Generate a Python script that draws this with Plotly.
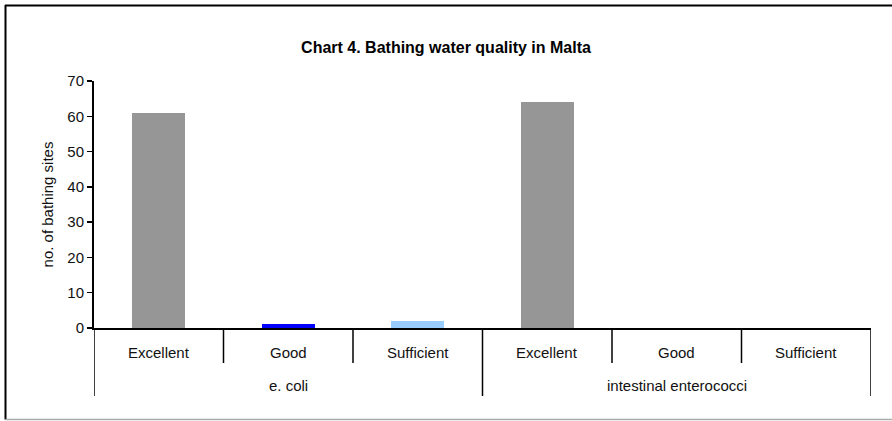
import plotly.graph_objects as go

# ---- data ----
groups = ["e. coli", "intestinal enterococci"]
classes = ["Excellent", "Good", "Sufficient"]
ecoli_values = [61, 1, 2]
enterococci_values = [64, 0, 0]
class_colors = ["#969696", "#0000FF", "#99CCFF"]
y_ticks = [0, 10, 20, 30, 40, 50, 60, 70]

title_text = "Chart 4. Bathing water quality in Malta"
y_title = "no. of bathing sites"

# ---- build ----
series = [ecoli_values, enterococci_values]
xs, ys, cols, labels = [], [], [], []
for gi, vals in enumerate(series):
    for ci, v in enumerate(vals):
        xs.append(gi * len(classes) + ci)
        ys.append(v)
        cols.append(class_colors[ci])
        labels.append(classes[ci])

W, H = 892, 421
ML, MR, MT, MB = 94, 21, 81, 93
PW, PH = W - ML - MR, H - MT - MB

def xp(px):
    return (px - ML) / PW

def yp(py):
    return (H - MB - py) / PH

FONT = "Liberation Sans, Arial, sans-serif"
FS = 15

fig = go.Figure()
fig.add_trace(go.Bar(x=xs, y=ys, marker=dict(color=cols, line=dict(width=0)),
                     width=0.41, showlegend=False, hoverinfo="skip"))

shapes = []
annotations = []
n = len(xs)
# category dividers
for k in range(n + 1):
    xb = k - 0.5
    is_group = (k % len(classes) == 0)
    shapes.append(dict(type="line", xref="x", yref="paper",
                       x0=xb, x1=xb, y0=0, y1=yp(H - MB + (68 if is_group else 35)),
                       line=dict(color="black", width=1.5)))
# inner labels
for x, lab in zip(xs, labels):
    annotations.append(dict(x=x, y=yp(352), xref="x", yref="paper", text=lab, showarrow=False,
                            yanchor="middle", xanchor="center",
                            font=dict(family=FONT, size=FS, color="#111111")))
# group labels
for gi, g in enumerate(groups):
    annotations.append(dict(x=gi * len(classes) + (len(classes) - 1) / 2, y=yp(385),
                            xref="x", yref="paper",
                            text=g, showarrow=False, yanchor="middle",
                            xanchor="center", font=dict(family=FONT, size=FS, color="#111111")))

# outer frame
shapes.append(dict(type="line", xref="paper", yref="paper", x0=xp(5), x1=xp(900),
                   y0=yp(5.5), y1=yp(5.5), line=dict(color="black", width=2), layer="above"))
shapes.append(dict(type="line", xref="paper", yref="paper", x0=xp(5.5), x1=xp(5.5),
                   y0=yp(5), y1=yp(419.5), line=dict(color="black", width=2)))
shapes.append(dict(type="line", xref="paper", yref="paper", x0=xp(5.5), x1=xp(900),
                   y0=yp(419.5), y1=yp(419.5), line=dict(color="#AAAAAA", width=1.5)))

fig.update_layout(
    width=W, height=H,
    margin=dict(l=ML, r=MR, t=MT, b=MB),
    paper_bgcolor="white", plot_bgcolor="white",
    title=dict(text="<b>" + title_text + "</b>", x=0.5, xref="container", xanchor="center",
               y=1 - 47 / H, yref="container", yanchor="middle",
               font=dict(family=FONT, size=16, color="black")),
    xaxis=dict(range=[-0.5, n - 0.5], showline=True, linecolor="black", linewidth=2,
               showticklabels=False, ticks="", showgrid=False, zeroline=False, fixedrange=True),
    yaxis=dict(range=[0, 70], tickvals=y_ticks, showline=True, linecolor="black", linewidth=2,
               ticks="outside", ticklen=5, tickwidth=1.5, tickcolor="black",
               showgrid=False, zeroline=False, fixedrange=True,
               tickfont=dict(family=FONT, size=FS, color="#111111"),
               title=dict(text=y_title, standoff=10,
                          font=dict(family=FONT, size=FS, color="#111111"))),
    shapes=shapes, annotations=annotations,
    bargap=0,
)

fig.write_html("out.html", config={"displayModeBar": False, "staticPlot": True},
               post_script="document.body.style.margin='0';document.body.style.padding='0';")
